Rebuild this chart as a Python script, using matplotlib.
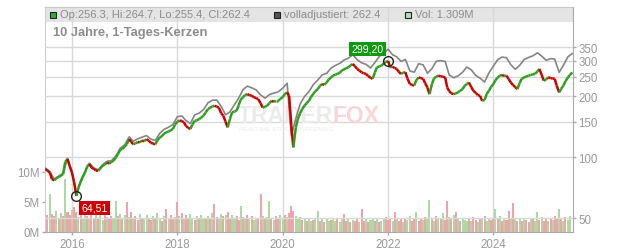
import matplotlib
matplotlib.use('Agg')
import matplotlib.pyplot as plt
import matplotlib.dates as mdates
from matplotlib.collections import LineCollection
from matplotlib.patches import Rectangle
from matplotlib.ticker import NullLocator
import numpy as np
import pandas as pd

plt.rcParams['font.family'] = ['Liberation Sans', 'DejaVu Sans']

# --- Data ---
# close prices, semi-monthly from 2015-07-01
close = [
    87.5, 86, 84, 78, 77, 79, 80, 81, 82.7, 95, 98, 91,
    84, 76, 64.51, 71, 75.5, 80, 84.3, 90, 92.7, 89, 87.6, 86,
    85.9, 88, 91, 92, 94.5, 93, 95, 96.2, 100, 103.8, 109, 110,
    113, 116, 123, 119, 116, 117, 119, 118.6, 121, 120, 123, 121,
    118, 117, 116, 121, 125.5, 127, 131, 132.8, 134, 136, 138, 145,
    150, 152, 151, 149, 143, 140, 138, 145, 151.6, 152, 154.6, 157,
    160.5, 166, 173, 176, 178, 179.6, 178, 176, 165, 160.5, 150, 140.6,
    155, 166.7, 168, 169.8, 180, 192, 198, 203, 205, 203, 201, 198,
    196, 194, 185, 176, 178, 179.6, 185, 190, 188, 190, 190, 194,
    198, 205, 209, 201, 143, 112, 140, 154.6, 165, 173, 180, 185,
    190, 198, 206, 212, 217, 225, 230, 228, 234, 242, 248, 253,
    256, 258, 262, 268, 272, 275, 278, 284, 289, 282, 273, 268,
    263, 260, 258, 252, 247, 244, 262, 278, 281, 283, 290, 295,
    299.2, 278, 280, 276, 273, 265, 258, 262, 263, 245, 230, 228,
    226, 240, 248, 246, 244, 232, 221, 205, 230, 245, 250, 253,
    251, 250, 248, 221, 212, 207, 205, 207, 209, 213, 217, 225,
    230, 234, 222, 213, 208, 203, 201, 190, 192, 205, 213, 222,
    230, 240, 248, 253, 255, 252, 253, 244, 234, 228, 222, 217,
    232, 244, 248, 250, 253, 255, 257, 258, 265, 273, 255, 239,
    242, 248, 246, 245, 244, 226, 209, 218, 226, 238, 248, 255,
    262.4,
]

# "volladjustiert" line, monthly from 2015-07-01
adjusted = [
    88.4, 84.8, 77.8, 80.8, 83.5, 99, 84.8, 65.2, 76.3, 85.1, 93.6, 88.5,
    86.8, 92, 95.6, 96.3, 101.5, 111, 115.5, 126.3, 120, 123.4, 125.7, 128,
    123, 121.2, 131.4, 137.4, 140.8, 145.3, 158.7, 160, 151.9, 146.9, 161.8, 165.3,
    171.9, 185.7, 191.4, 191.7, 178, 162.1, 167.8, 182.2, 195.5, 215.4, 224.5, 220.3,
    215, 203.3, 195.8, 203.9, 207.6, 210.2, 219.4, 232, 128, 155.4, 183.2, 199.8,
    211, 228.7, 241, 255.3, 259.7, 275.3, 284.2, 290.8, 302, 308.6, 320.8, 303,
    292.7, 287.6, 275.9, 293.2, 315, 325.7, 341.7, 320.6, 313.6, 297.4, 304.1, 266.8,
    263.1, 289.7, 286, 260, 273.7, 298, 300, 297, 254.6, 246.8, 252.3, 262.6,
    278.9, 269.9, 253.5, 245.6, 235.2, 261, 281.8, 303.8, 312.4, 310, 286.7, 272,
    284.2, 303.8, 311, 316.9, 327.6, 316, 301, 307, 305.5, 262.5, 284.8, 313.5,
    325,
]

# volume in millions, semi-monthly
volume = [
    3.2, 2.8, 6.3, 3.0, 2.6, 3.5, 2.4, 3.1, 2.7, 8.8, 3.4, 2.9,
    3.6, 4.1, 3.3, 2.5, 3.0, 2.2, 3.4, 2.6, 2.1, 2.9, 2.4, 3.1,
    2.3, 2.8, 2.0, 3.2, 2.5, 2.2, 2.7, 2.1, 5.2, 2.6, 3.0, 2.4,
    2.9, 4.9, 2.5, 3.3, 2.2, 2.6, 2.0, 3.0, 2.4, 2.1, 2.8, 2.3,
    2.0, 2.7, 2.2, 3.1, 2.4, 1.9, 2.6, 3.8, 2.2, 2.9, 2.1, 2.5,
    4.9, 2.7, 3.2, 2.3, 2.8, 2.1, 3.0, 2.4, 2.0, 2.6, 2.2, 2.9,
    2.3, 2.1, 2.7, 2.4, 3.1, 4.6, 2.5, 2.2, 3.0, 2.6, 2.8, 3.4,
    2.4, 2.9, 2.2, 2.6, 2.0, 4.3, 2.5, 2.1, 2.8, 2.3, 2.6, 2.0,
    2.4, 2.2, 6.3, 2.7, 2.1, 2.5, 5.2, 2.3, 2.0, 2.6, 2.2, 2.8,
    2.3, 2.9, 2.5, 3.1, 4.3, 3.5, 2.7, 2.2, 2.5, 2.0, 2.4, 1.9,
    2.2, 1.8, 2.0, 2.4, 3.5, 1.9, 2.1, 1.7, 2.3, 1.8, 2.0, 2.2,
    1.8, 2.1, 1.7, 2.4, 3.0, 1.9, 2.2, 1.6, 2.0, 1.8, 2.3, 1.7,
    3.8, 1.9, 2.1, 1.6, 2.0, 2.4, 1.8, 2.2, 1.7, 1.9, 2.1, 2.5,
    2.0, 2.3, 1.8, 3.3, 2.1, 1.9, 2.4, 1.7, 2.2, 2.0, 2.6, 1.9,
    2.1, 3.3, 1.8, 2.3, 2.0, 2.5, 2.2, 5.3, 2.4, 1.9, 2.6, 2.1,
    2.3, 3.2, 2.0, 5.1, 2.5, 2.1, 2.8, 3.4, 2.2, 1.9, 2.4, 2.0,
    1.8, 2.2, 1.9, 2.5, 2.0, 1.7, 2.3, 2.1, 2.6, 1.9, 2.2, 2.0,
    2.4, 3.9, 2.1, 2.6, 1.9, 2.2, 2.0, 3.5, 2.3, 4.8, 2.1, 1.8,
    2.2, 1.9, 2.4, 2.0, 1.7, 2.3, 2.1, 1.8, 3.3, 2.0, 2.5, 1.9,
    2.2, 1.8, 2.4, 2.0, 2.6, 2.1, 3.8, 2.3, 1.9, 2.5, 2.0, 2.7,
]
vol_dir = ("grgrrgrgrgrr" "grrgrggrgrrg" "rggrgrrggrgr" "grgrgrrgrggr"
           "rgrggrgrgrrg" "rgrgrrggrgrg" "grgrgrrggrgr" "rggrrgrgrgrg"
           "grrgrggrgrrg" "grgrrrgggrgr" "ggrggrgrggrg" "grggrrgrgrrg"
           "rrgrggrgrggr" "rrgrgrrgrggr" "rgrrgrggrgrg" "rgrrgrgrgrgg"
           "grgrrgrgrggr" "rgrgrgrrgrgr" "grgrrgrggrgr" "rgrgrrgrgrgg")

price_ticks = [50, 100, 150, 200, 250, 300, 350]
vol_ticks = [0, 5, 10]
vol_labels = ['0M', '5M', '10M']
year_ticks = [2016, 2018, 2020, 2022, 2024]

title = '10 Jahre, 1-Tages-Kerzen'
legend_ohlc = 'Op:256.3, Hi:264.7, Lo:255.4, Cl:262.4'
legend_adj = 'volladjustiert: 262.4'
legend_vol = 'Vol: 1.309M'
high_label, low_label = '299,20', '64,51'

# --- Colors ---
UP, DOWN = '#2e9e1e', '#cc0000'
VOL_UP, VOL_DOWN = '#abdba3', '#f0a3ab'
GRID = '#d9d9d9'
TXT = '#999999'

price_dates = pd.date_range('2015-07-01', periods=len(close), freq='SMS')
adj_dates = pd.date_range('2015-07-01', periods=len(adjusted), freq='MS')
vol_dates = price_dates[:len(volume)]

W, H = 632, 253
fig = plt.figure(figsize=(W / 100, H / 100), dpi=100)
fig.patch.set_facecolor('white')

def fig_rect(x0, y0, x1, y1):
    return [x0 / W, 1 - y1 / H, (x1 - x0) / W, (y1 - y0) / H]

ax = fig.add_axes(fig_rect(45, 8.3, 572.7, 233))

# --- Volume ---
ax.bar(vol_dates, volume, width=14,
       color=[VOL_UP if c == 'g' else VOL_DOWN for c in vol_dir],
       linewidth=0, zorder=2)

# legend strip on top
strip_h = 14.4 / 224.7
ax.add_patch(Rectangle((0, 1 - strip_h), 1, strip_h, transform=ax.transAxes,
                       facecolor='#e4e4e4', edgecolor='none', zorder=0.5))
for yr in year_ticks:
    ax.axvline(pd.Timestamp(f'{yr}-01-01'), color=GRID, lw=1, zorder=1)

ax.set_xlim(pd.Timestamp('2015-06-28'), pd.Timestamp('2025-07-04'))
ax.set_ylim(0, 37.3)
ax.set_yticks(vol_ticks, labels=vol_labels)
ax.set_xticks([pd.Timestamp(f'{y}-01-01') for y in year_ticks],
              labels=[str(y) for y in year_ticks])
ax.tick_params(color='#aaaaaa', labelcolor=TXT, labelsize=8.3,
               length=2.5, width=1, pad=1.5)

ax.spines['top'].set_color('#c8c8c8')
ax.spines['left'].set_color('#d0d0d0')
ax.spines['bottom'].set_color('#aaaaaa')
ax.spines['right'].set_visible(False)

# --- Price (log, right axis) ---
ax2 = ax.twinx()
ax2.set_yscale('log')
ax2.set_ylim(42.8, 550)
ax2.set_yticks(price_ticks, labels=[str(t) for t in price_ticks])
ax2.yaxis.set_minor_locator(NullLocator())
ax2.tick_params(axis='y', color='#aaaaaa', labelcolor=TXT, labelsize=8.3,
                length=2.5, width=1, pad=1.5)
ax2.grid(axis='y', color=GRID, lw=1)
ax2.set_axisbelow(True)
for s in ['left', 'top', 'bottom']:
    ax2.spines[s].set_visible(False)
ax2.spines['right'].set_color('#aaaaaa')

# watermark
ax2.text(238 / W, 1 - 116.5 / H, 'TRADER', transform=fig.transFigure,
         fontsize=16.5, fontweight='bold', color='#ebebeb', va='center', zorder=1)
ax2.text(332 / W, 1 - 116.5 / H, 'FOX', transform=fig.transFigure,
         fontsize=16.5, fontweight='bold', color='#f7d6d6', va='center', zorder=1)
ax2.text(239 / W, 1 - 129.5 / H, 'REALTIME STOCK SCREENING', transform=fig.transFigure,
         fontsize=4.6, color='#ececec', va='center', zorder=1)

ax2.plot(adj_dates, adjusted, color='#858585', lw=1.2, zorder=2)

x = mdates.date2num(price_dates)
c = np.array(close)
segs = np.stack([np.column_stack([x[:-1], c[:-1]]),
                 np.column_stack([x[1:], c[1:]])], axis=1)
seg_colors = [UP if b >= a else DOWN for a, b in zip(c[:-1], c[1:])]
ax2.add_collection(LineCollection(segs, colors=seg_colors, linewidths=1.8,
                                  zorder=3), autolim=False)

# high / low markers
i_hi, i_lo = int(np.argmax(c)), int(np.argmin(c))
for i in (i_hi, i_lo):
    ax2.plot(price_dates[i], c[i], 'o', ms=7, mfc='none', mec='#222222',
             mew=1, zorder=4)
ax2.annotate(high_label, xy=(price_dates[i_hi], c[i_hi]), xytext=(-3.2, 5.1),
             textcoords='offset points', ha='right', va='bottom',
             fontsize=7.6, color='white', zorder=5,
             bbox=dict(boxstyle='square,pad=0.2', fc='#119911', ec='none'))
ax2.annotate(low_label, xy=(price_dates[i_lo], c[i_lo]), xytext=(3.4, -5.1),
             textcoords='offset points', ha='left', va='top',
             fontsize=7.6, color='white', zorder=5,
             bbox=dict(boxstyle='square,pad=0.2', fc='#cc0000', ec='none'))

# --- Title and legend ---
fig.text(53.3 / W, 1 - 33.3 / H, title, fontsize=9.3, fontweight='bold',
         color='#8c8c8c', va='center')

leg_y = 15.5
for x0, fc, txt in [(50, '#33aa33', legend_ohlc),
                    (273.5, '#555555', legend_adj),
                    (405.3, '#b2e0b2', legend_vol)]:
    fig.add_artist(Rectangle((x0 / W, 1 - (leg_y + 3) / H), 6 / W, 6 / H,
                             transform=fig.transFigure, facecolor=fc,
                             edgecolor='#222222', lw=0.8))
    fig.text((x0 + 10) / W, 1 - leg_y / H, txt, fontsize=8, color='#8c8c8c',
             va='center')

plt.savefig('out.png', dpi=100)
